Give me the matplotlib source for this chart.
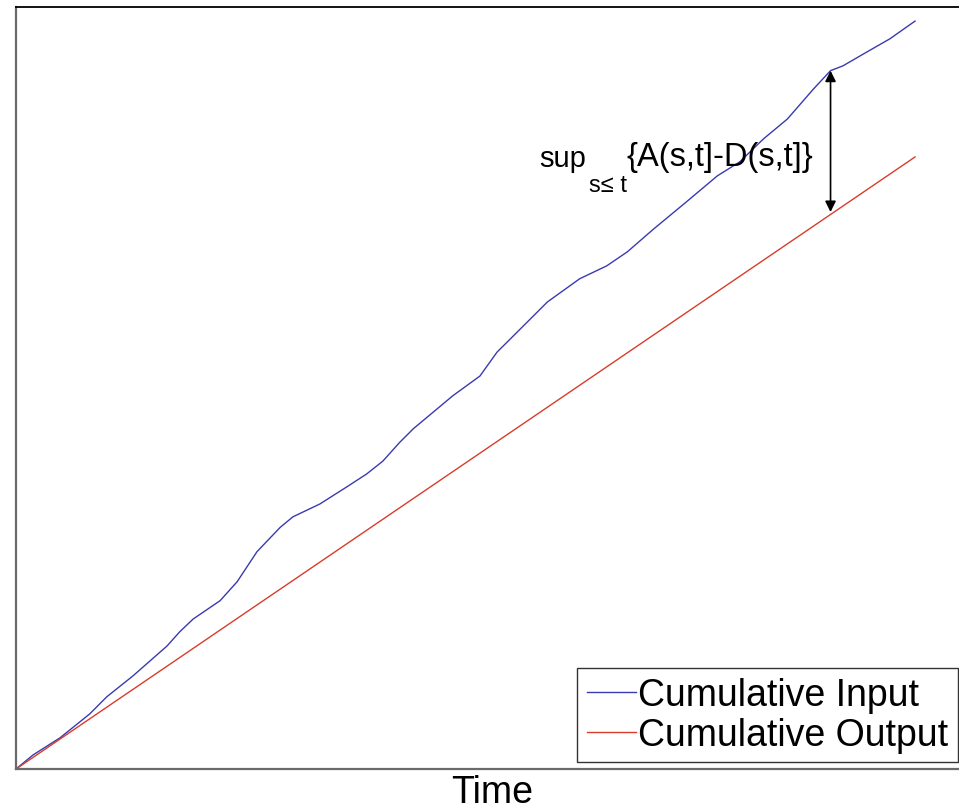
import matplotlib
matplotlib.use("Agg")
import matplotlib.pyplot as plt

plt.rcParams['font.family'] = ['Liberation Sans', 'DejaVu Sans']

# Data
time_in = [0, 1.9, 4.9, 8.2, 10.1, 13.0, 16.8, 18.2, 19.7, 22.7, 24.6, 26.8, 29.4,
           30.8, 33.8, 36.8, 39.0, 40.8, 42.7, 44.2, 46.4, 48.6, 51.6, 53.5, 56.1,
           59.1, 62.7, 65.7, 68.0, 70.9, 74.6, 78.0, 80.5, 83.1, 85.8, 88.7, 90.6,
           92.0, 94.7, 97.2, 100]
cum_input = [0, 2.3, 5.1, 9.0, 11.8, 15.2, 20.1, 22.4, 24.5, 27.5, 30.6, 35.5, 39.5,
             41.2, 43.3, 46.1, 48.2, 50.3, 53.4, 55.6, 58.3, 61.0, 64.2, 68.1, 71.9,
             76.3, 80.1, 82.2, 84.5, 88.2, 92.7, 96.9, 99.2, 102.9, 106.2, 111.1, 114.1,
             114.9, 117.2, 119.3, 122.2]
time_out = [0, 100]
cum_output = [0, 100]
arrow_t = 90.6
series_labels = ["Cumulative Input", "Cumulative Output"]
x_label = "Time"

fig = plt.figure(figsize=(9.59, 8.12), dpi=100)
ax = fig.add_axes([16/959, 42/812, 944/959, 762/812])

ax.plot(time_in, cum_input, color='#3a3ab0', lw=1.0, label=series_labels[0])
ax.plot(time_out, cum_output, color='#d83c2c', lw=1.0, label=series_labels[1])

ax.set_xlim(0, 105)
ax.set_ylim(0, 124.5)
ax.set_xticks([])
ax.set_yticks([])
for side in ['left', 'bottom']:
    ax.spines[side].set_color('#6a6a6a')
    ax.spines[side].set_linewidth(1.6)
ax.spines['top'].set_color('black')
ax.spines['top'].set_linewidth(1.3)
ax.spines['right'].set_visible(False)

ax.set_xlabel(x_label, fontsize=27, va='baseline')
ax.xaxis.set_label_coords(0.504, -33/762)

# double-headed arrow between the curves
y_top = 114.1
y_bot = 91.0
ax.annotate('', xy=(arrow_t, y_top), xytext=(arrow_t, y_bot),
            arrowprops=dict(arrowstyle='<|-|>', color='black', lw=1.2,
                            mutation_scale=16, shrinkA=0, shrinkB=0))

# annotation text: sup_{s<= t}{A(s,t]-D(s,t]}
t1 = ax.text(58.2, 98.5, 'sup', fontsize=21, ha='left', va='baseline')
t2 = ax.annotate('s\u2264 t', xy=(1, 0), xycoords=t1, xytext=(2, -17),
                 textcoords='offset points', fontsize=17, ha='left', va='bottom')
t3 = ax.annotate('{A(s,t]-D(s,t]}', xy=(1, 0), xycoords=(t2, t1),
                 fontsize=23.5, ha='left', va='bottom')

leg = ax.legend(loc='lower right', bbox_to_anchor=(958/959, 49/812),
                bbox_transform=fig.transFigure, borderaxespad=0,
                fontsize=27, frameon=True, fancybox=False, framealpha=1,
                edgecolor='#333333', handlelength=1.3, handletextpad=0.08,
                borderpad=0.25, labelspacing=0.1)
leg.get_frame().set_linewidth(1.0)

fig.savefig('out.png', dpi=100)
